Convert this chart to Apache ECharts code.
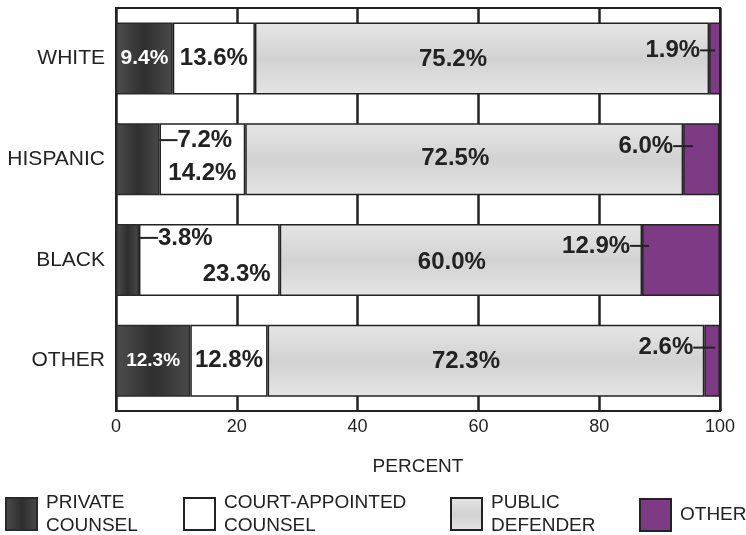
<!DOCTYPE html>
<html>
<head>
<meta charset="utf-8">
<script src="https://cdn.jsdelivr.net/npm/echarts@6/dist/echarts.min.js"></script>
<style>
  html, body { margin: 0; padding: 0; background: #fff; }
  #chart { width: 746px; height: 535px; }
</style>
</head>
<body>
<div id="chart"></div>
<script>
// data
const categories = ["WHITE", "HISPANIC", "BLACK", "OTHER"];
const privateCounsel = [9.4, 7.2, 3.8, 12.3];
const courtAppointed = [13.6, 14.2, 23.3, 12.8];
const publicDefender = [75.2, 72.5, 60.0, 72.3];
const otherCounsel = [1.9, 6.0, 12.9, 2.6];
const xTicks = [0, 20, 40, 60, 80, 100];

const INK = "#222";
const FONT = "'Liberation Sans', Arial, sans-serif";

// label placement per series, per category (styling only)
const labelPlace = {
  private: [
    { position: "inside", color: "#fff", fontSize: 21 },
    { position: "right", leader: 18, lead: "before", offset: [0, -19] },
    { position: "right", leader: 19, lead: "before", offset: [0, -22] },
    { position: "inside", color: "#fff", fontSize: 19 },
  ],
  court: [
    { position: "inside" },
    { position: "inside", offset: [0, 14] },
    { position: "insideRight", distance: 9, offset: [0, 14] },
    { position: "inside" },
  ],
  public: [
    { position: "inside", offset: [-29, 1] },
    { position: "inside", offset: [-9, -1] },
    { position: "inside", offset: [-9, 2] },
    { position: "inside", offset: [-20, 1] },
  ],
  other: [
    { position: "left", leader: 15, lead: "after", offset: [6, -8] },
    { position: "left", leader: 20, lead: "after", offset: [10, -13] },
    { position: "left", leader: 19, lead: "after", offset: [7, -14] },
    { position: "left", leader: 22, lead: "after", offset: [11, -13] },
  ],
};

function buildData(values, places) {
  return values.map((v, i) => {
    const p = places[i];
    const txt = v.toFixed(1) + "%";
    let formatter = "{t|" + txt + "}";
    if (p.lead === "before") formatter = "{ln|}{t|" + txt + "}";
    if (p.lead === "after") formatter = "{t|" + txt + "}{ln|}";
    return {
      value: v,
      label: {
        show: true,
        position: p.position,
        distance: p.distance !== undefined ? p.distance : 0,
        offset: p.offset || [0, 0],
        formatter: formatter,
        rich: {
          t: {
            fontFamily: FONT,
            fontWeight: "bold",
            fontSize: p.fontSize || 24,
            color: p.color || INK,
          },
          ln: {
            width: p.leader || 0,
            height: 2,
            backgroundColor: INK,
            verticalAlign: "middle",
          },
        },
      },
    };
  });
}

const chart = echarts.init(document.getElementById("chart"));

const barBase = {
  type: "bar",
  stack: "total",
  barWidth: 72,
  emphasis: { disabled: true },
};

const option = {
  animation: false,
  textStyle: { fontFamily: FONT },
  grid: {
    left: 116,
    right: 26,
    top: 8,
    bottom: 124,
    show: true,
    borderColor: INK,
    borderWidth: 2,
  },
  legend: [
    { name: "PRIVATE COUNSEL", left: 5, top: 491 },
    { name: "COURT-APPOINTED COUNSEL", left: 183, top: 491 },
    { name: "PUBLIC DEFENDER", left: 450, top: 491 },
    { name: "OTHER", left: 639, top: 498 },
  ].map((l) => ({
    data: [l.name],
    left: l.left,
    top: l.top,
    padding: 0,
    icon: "rect",
    itemWidth: 31,
    itemHeight: 32,
    selectedMode: false,
    formatter: (n) => n.replace(" ", "\n"),
    textStyle: {
      fontFamily: FONT,
      fontSize: 19,
      lineHeight: 23,
      color: INK,
      padding: [0, 0, 0, 4],
    },
  })),
  xAxis: {
    type: "value",
    min: xTicks[0],
    max: xTicks[xTicks.length - 1],
    interval: 20,
    name: "PERCENT",
    nameLocation: "middle",
    nameGap: 46,
    nameTextStyle: { fontFamily: FONT, fontSize: 19, color: INK },
    axisLine: { show: false },
    axisTick: { show: false },
    axisLabel: { fontFamily: FONT, fontSize: 18, color: INK, margin: 7 },
    splitLine: { show: true, lineStyle: { color: INK, width: 2.5 } },
  },
  yAxis: {
    type: "category",
    data: categories,
    inverse: true,
    axisLine: { show: false },
    axisTick: { show: false },
    axisLabel: { fontFamily: FONT, fontSize: 21, color: INK, margin: 11 },
    splitLine: { show: false },
  },
  series: [
    {
      ...barBase,
      name: "PRIVATE COUNSEL",
      data: buildData(privateCounsel, labelPlace.private),
      itemStyle: {
        color: new echarts.graphic.LinearGradient(0, 0, 1, 0, [
          { offset: 0, color: "#4d4d4d" },
          { offset: 0.5, color: "#2f2f2f" },
          { offset: 1, color: "#4a4a4a" },
        ]),
        borderColor: "#2a2a2a",
        borderWidth: 1.5,
      },
    },
    {
      ...barBase,
      name: "COURT-APPOINTED COUNSEL",
      data: buildData(courtAppointed, labelPlace.court),
      itemStyle: { color: "#ffffff", borderColor: INK, borderWidth: 1.5 },
    },
    {
      ...barBase,
      name: "PUBLIC DEFENDER",
      data: buildData(publicDefender, labelPlace.public),
      itemStyle: {
        color: new echarts.graphic.LinearGradient(0, 0, 0, 1, [
          { offset: 0, color: "#e6e6e6" },
          { offset: 0.5, color: "#d2d2d2" },
          { offset: 1, color: "#e4e4e4" },
        ]),
        borderColor: INK,
        borderWidth: 1.5,
      },
    },
    {
      ...barBase,
      name: "OTHER",
      data: buildData(otherCounsel, labelPlace.other),
      itemStyle: { color: "#7e3b85", borderColor: INK, borderWidth: 1.5 },
    },
  ],
};

option && chart.setOption(option);
</script>
</body>
</html>
